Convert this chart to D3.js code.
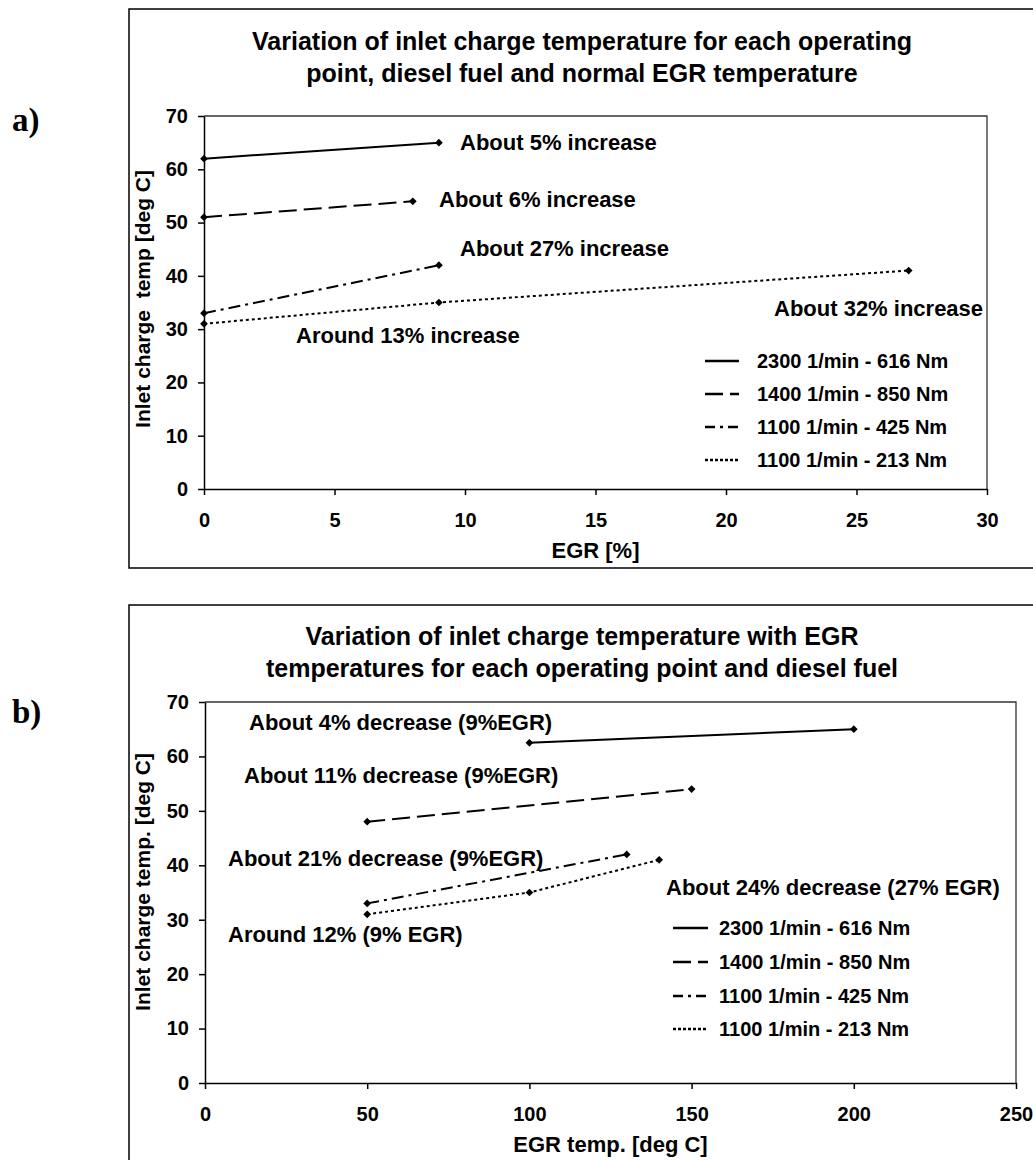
<!DOCTYPE html>
<html>
<head>
<meta charset="utf-8">
<script src="https://cdn.jsdelivr.net/npm/d3@7"></script>
<style>
  body { margin: 0; background: #fff; }
  svg text { font-family: "Liberation Sans", Arial, sans-serif; font-weight: bold; fill: #000; }
</style>
</head>
<body>
<svg id="fig" width="1033" height="1160"></svg>
<script>
// series (operating points), same order in both panels
const seriesNames = ["2300 1/min - 616 Nm", "1400 1/min - 850 Nm", "1100 1/min - 425 Nm", "1100 1/min - 213 Nm"];

// panel a) EGR rate [%] -> inlet charge temp [deg C]
const egrRate = [[0, 9], [0, 8], [0, 9], [0, 9, 27]];
const tempA = [[62, 65], [51, 54], [33, 42], [31, 35, 41]];

// panel b) EGR temp [deg C] -> inlet charge temp [deg C]
const egrTemp = [[100, 200], [50, 150], [50, 130], [50, 100, 140]];
const tempB = [[62.5, 65], [48, 54], [33, 42], [31, 35, 41]];

const yTicks = [0, 10, 20, 30, 40, 50, 60, 70];
const xTicksA = [0, 5, 10, 15, 20, 25, 30];
const xTicksB = [0, 50, 100, 150, 200, 250];

const titleA = ["Variation of inlet charge temperature for each operating", "point, diesel fuel and normal EGR temperature"];
const titleB = ["Variation of inlet charge temperature with EGR", "temperatures for each operating point and diesel fuel"];

const notesA = ["About 5% increase", "About 6% increase", "About 27% increase", "About 32% increase", "Around 13% increase"];
const notesB = ["About 4% decrease (9%EGR)", "About 11% decrease (9%EGR)", "About 21% decrease (9%EGR)", "Around 12% (9% EGR)", "About 24% decrease (27% EGR)"];

// line styles per series
const plotDash = ["none", "18,7", "12,5,3,5", "3,3"];
const legendDash = ["none", "18,7", "10,5,3,5", "3,2"];

const svg = d3.select("#fig");

function drawPanel(cfg) {
    const g = svg.append("g");

    // outer frame (runs off the right edge of the page)
    g.append("path")
        .attr("d", `M1033,${cfg.frame.top}H${cfg.frame.left}V${cfg.frame.bottom}H1033`)
        .attr("fill", "none")
        .attr("stroke", "#000")
        .attr("stroke-width", 1.5);

    // panel letter
    g.append("text")
        .attr("x", 12)
        .attr("y", cfg.letterY)
        .style("font-family", "'Liberation Serif', 'Times New Roman', serif")
        .style("font-size", "33px")
        .text(cfg.letter);

    // title
    cfg.title.forEach((t, i) => {
        g.append("text")
            .attr("x", 582)
            .attr("y", cfg.titleY[i])
            .attr("text-anchor", "middle")
            .style("font-size", "25px")
            .text(t);
    });

    const x = d3.scaleLinear().domain(cfg.xDomain).range([cfg.plot.left, cfg.plot.right]);
    const y = d3.scaleLinear().domain([0, 70]).range([cfg.plot.bottom, cfg.plot.top]);

    // plot area border
    g.append("path")
        .attr("d", `M${x.range()[0]},${y.range()[1]}H${x.range()[1]}V${y.range()[0]}`)
        .attr("fill", "none")
        .attr("stroke", "#333")
        .attr("stroke-width", 1.3);

    const yAxis = g.append("g")
        .attr("transform", `translate(${cfg.plot.left},0)`)
        .call(d3.axisLeft(y).tickValues(yTicks).tickSize(6).tickSizeOuter(0).tickPadding(10));
    const xAxis = g.append("g")
        .attr("transform", `translate(0,${cfg.plot.bottom})`)
        .call(d3.axisBottom(x).tickValues(cfg.xTicks).tickSize(6).tickSizeOuter(0).tickPadding(18));

    [yAxis, xAxis].forEach(a => {
        a.attr("font-size", null).attr("font-family", null);
        a.selectAll("text").style("font-size", "20px");
        a.selectAll("line, path").attr("stroke", "#000").attr("stroke-width", 1.5);
    });

    // axis titles
    g.append("text")
        .attr("x", (cfg.plot.left + cfg.plot.right) / 2)
        .attr("y", cfg.plot.bottom + 69)
        .attr("text-anchor", "middle")
        .style("font-size", "22px")
        .text(cfg.xLabel);

    g.append("text")
        .attr("transform", `translate(150,${cfg.yLabelEnd}) rotate(-90)`)
        .attr("text-anchor", "end")
        .style("font-size", "21px")
        .style("white-space", "pre")
        .text(cfg.yLabel);

    // series
    const line = d3.line().x(d => x(d[0])).y(d => y(d[1]));
    const marker = d3.symbol(d3.symbolSquare, 30);
    cfg.xs.forEach((xs, i) => {
        const pts = d3.zip(xs, cfg.ys[i]);
        g.append("path")
            .datum(pts)
            .attr("d", line)
            .attr("fill", "none")
            .attr("stroke", "#000")
            .attr("stroke-width", 2)
            .attr("stroke-dasharray", plotDash[i]);
        g.selectAll(null)
            .data(pts)
            .enter()
            .append("path")
            .attr("d", marker)
            .attr("transform", d => `translate(${x(d[0])},${y(d[1])}) rotate(45)`)
            .attr("fill", "#000");
    });

    // annotations
    cfg.notes.forEach((t, i) => {
        g.append("text")
            .attr("x", cfg.notePos[i][0])
            .attr("y", cfg.notePos[i][1])
            .style("font-size", "22px")
            .text(t);
    });

    // legend
    seriesNames.forEach((name, i) => {
        const by = cfg.legend.y[i];
        g.append("line")
            .attr("x1", cfg.legend.lineX[0])
            .attr("x2", cfg.legend.lineX[1])
            .attr("y1", by - 7)
            .attr("y2", by - 7)
            .attr("stroke", "#000")
            .attr("stroke-width", 2.5)
            .attr("stroke-dasharray", legendDash[i]);
        g.append("text")
            .attr("x", cfg.legend.textX)
            .attr("y", by)
            .style("font-size", "20px")
            .text(name);
    });
}

drawPanel({
    letter: "a)", letterY: 131,
    frame: { left: 129, top: 9, bottom: 568 },
    plot: { left: 204, right: 987, top: 116, bottom: 489 },
    title: titleA, titleY: [50, 82],
    xDomain: [0, 30], xTicks: xTicksA,
    xLabel: "EGR [%]",
    yLabel: "Inlet charge  temp [deg C]", yLabelEnd: 170,
    xs: egrRate, ys: tempA,
    notes: notesA,
    notePos: [[460, 150], [439, 207], [460, 256], [774, 316], [296, 343]],
    legend: { lineX: [705, 739], textX: 757, y: [368, 401, 434, 467] }
});

drawPanel({
    letter: "b)", letterY: 723,
    frame: { left: 129, top: 605, bottom: 1170 },
    plot: { left: 205, right: 1016, top: 702, bottom: 1083 },
    title: titleB, titleY: [645, 677],
    xDomain: [0, 250], xTicks: xTicksB,
    xLabel: "EGR temp. [deg C]",
    yLabel: "Inlet charge temp. [deg C]", yLabelEnd: 753,
    xs: egrTemp, ys: tempB,
    notes: notesB,
    notePos: [[249, 730], [244, 783], [228, 866], [228, 942], [666, 895]],
    legend: { lineX: [673, 708], textX: 719, y: [935, 969, 1003, 1036] }
});
</script>
</body>
</html>
